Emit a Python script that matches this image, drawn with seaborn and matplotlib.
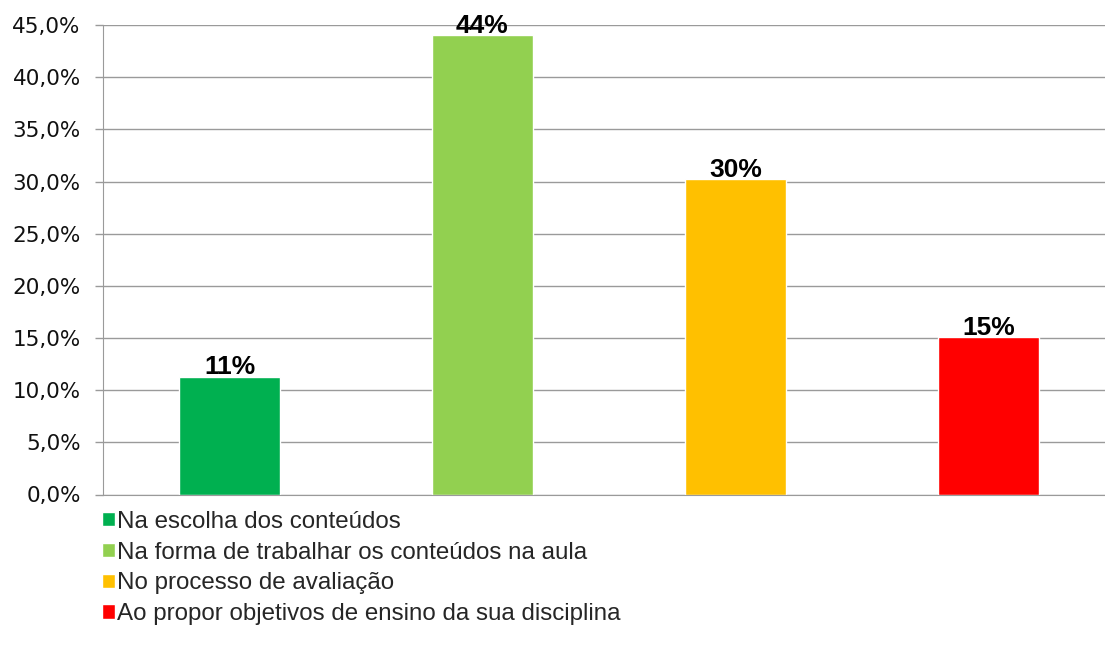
import matplotlib
matplotlib.use("Agg")
import matplotlib.pyplot as plt
import seaborn as sns
import pandas as pd
from matplotlib.ticker import FuncFormatter, MultipleLocator

# Data
categorias = [
    "Na escolha dos conteúdos",
    "Na forma de trabalhar os conteúdos na aula",
    "No processo de avaliação",
    "Ao propor objetivos de ensino da sua disciplina",
]
valores = [11.3, 44.0, 30.2, 15.1]
rotulos = ["11%", "44%", "30%", "15%"]
cores = ["#00B050", "#92D050", "#FFC000", "#FF0000"]

df = pd.DataFrame({"categoria": categorias, "valor": valores})

sns.set_style("white")
plt.rcParams["font.family"] = ["Liberation Sans", "DejaVu Sans"]

fig = plt.figure(figsize=(11.05, 6.48), dpi=100)
ax = fig.add_axes([103 / 1105, (648 - 494.5) / 648, 1012 / 1105, 469.5 / 648])

sns.barplot(data=df, x="categoria", y="valor", hue="categoria",
            palette=cores, width=0.4, saturation=1, ax=ax, legend=True)

# labels on top of bars
for cont, lab in zip(ax.containers, rotulos):
    ax.bar_label(cont, labels=[lab], padding=-2, fontsize=19,
                 fontweight="bold", color="black")

ax.set_xlim(-0.5, 3.5)
ax.set_ylim(0, 45)
ax.yaxis.set_major_locator(MultipleLocator(5))
ax.yaxis.set_major_formatter(FuncFormatter(lambda v, p: f"{v:.1f}%".replace(".", ",")))
ax.grid(axis="y", color="#9a9a9a", linewidth=1)
ax.set_axisbelow(True)
ax.set_xlabel("")
ax.set_ylabel("")
ax.set_xticks([])

for s in ["top", "right"]:
    ax.spines[s].set_visible(False)
ax.spines["left"].set_color("#9a9a9a")
ax.spines["bottom"].set_color("#9a9a9a")
ax.tick_params(axis="y", left=True, length=6, width=1, color="#9a9a9a",
               pad=10, labelsize=15.5, labelcolor="#111111")
for t in ax.get_yticklabels():
    t.set_fontfamily("DejaVu Sans")

# legend below the plot, one column
handles, labels = ax.get_legend_handles_labels()
ax.get_legend().remove()
fig.legend(handles, labels, loc="upper left", bbox_to_anchor=(102 / 1105, 1 - 511 / 648),
           frameon=False, fontsize=17.4, ncol=1, handlelength=0.52, handleheight=0.52,
           handletextpad=0.12, labelspacing=0.36, borderpad=0, borderaxespad=0)

plt.savefig("out.png", dpi=100)
